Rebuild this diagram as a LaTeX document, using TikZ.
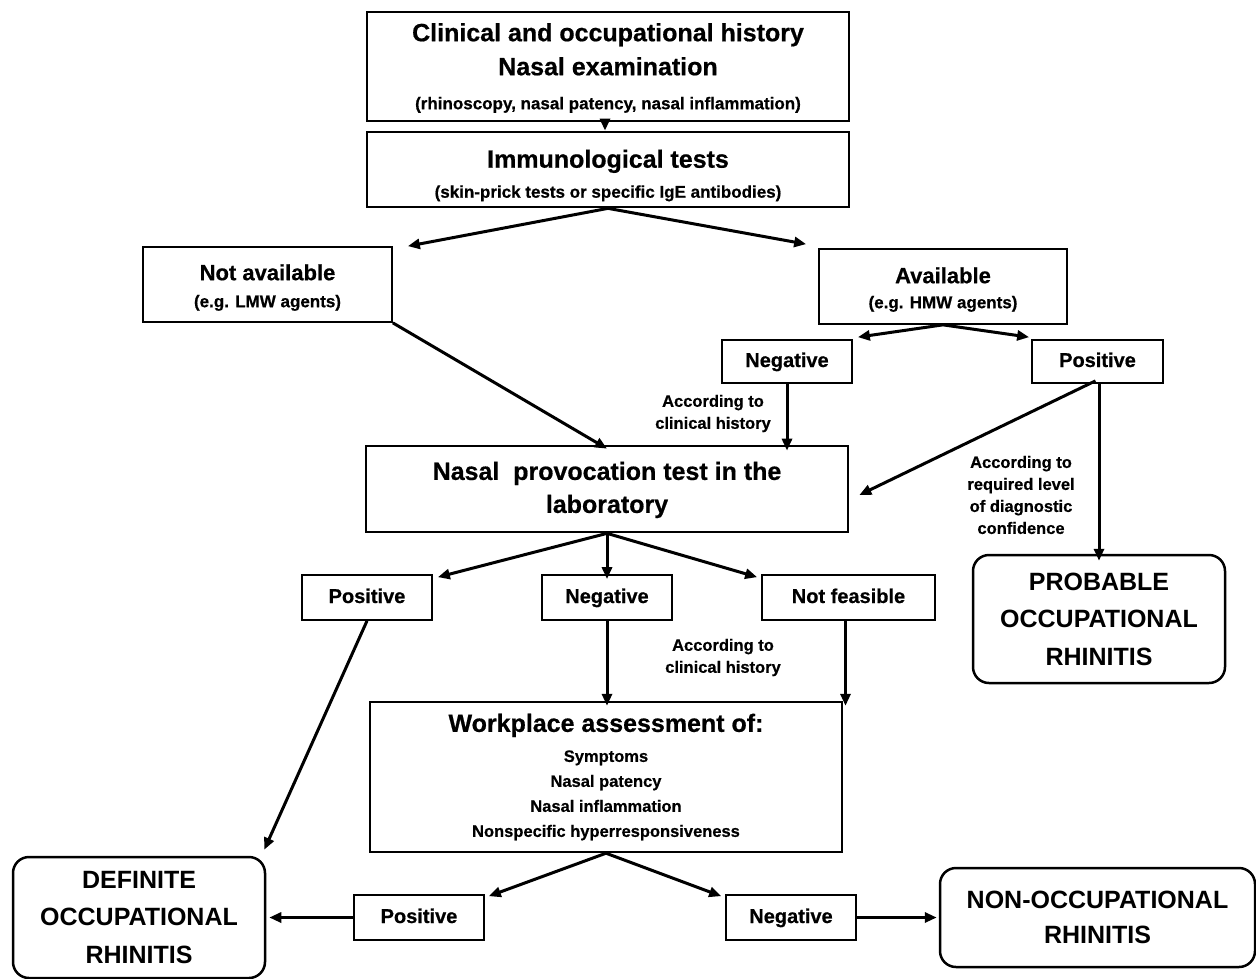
\documentclass[tikz,border=0pt]{standalone}
\usepackage{fontspec}
\setmainfont{Liberation Sans}[BoldFeatures={FakeBold=0.6}]
\newfontfamily\capsfont{Liberation Sans}
\usetikzlibrary{arrows.meta}
\newcommand{\fsz}[2]{\fontsize{#1pt}{#2pt}\selectfont}
\begin{document}
\begin{tikzpicture}[x=1pt,y=-1pt,
  box/.style={draw, line width=1.7pt, inner sep=0pt, align=center},
  heavy/.style={box, line width=2.7pt},
  small/.style={box, font=\bfseries\fsz{20}{24}, text height=15pt, text depth=4pt},
  outcome/.style={draw, line width=2.5pt, rounded corners=16pt, inner sep=0pt, align=center, font=\capsfont\bfseries\fsz{25}{37.5}},
  arr/.style={line width=3pt, -{Triangle[length=12pt,width=10pt]}},
  note/.style={align=center, font=\bfseries\fsz{16.5}{22}, inner sep=0pt}
]
\useasboundingbox (0,0) rectangle (1256,978);
\fill[white] (0,0) rectangle (1256,978);

% boxes
\node[heavy, minimum width=482pt, minimum height=109pt, font=\bfseries\fsz{25}{34}] (top) at (608,66.5)
  {\rule{0pt}{21pt}Clinical and occupational history\\Nasal examination\\{\fsz{17}{34}(rhinoscopy, nasal patency, nasal inflammation)}};
\node[heavy, minimum width=482pt, minimum height=75pt, font=\bfseries\fsz{25}{30}] (imm) at (608,169.5)
  {\rule{0pt}{30pt}Immunological tests\\{\fsz{17}{30}(skin-prick tests or specific IgE antibodies)}};
\node[box, minimum width=249pt, minimum height=75pt, font=\bfseries\fsz{22}{27}] (notavail) at (267.5,284.5)
  {\rule{0pt}{22pt}Not available\\{\fsz{17}{27}(e.g. LMW agents)}};
\node[box, minimum width=248pt, minimum height=75pt, font=\bfseries\fsz{22}{25}] (avail) at (943,286.5)
  {\rule{0pt}{22pt}Available\\{\fsz{17}{25}(e.g. HMW agents)}};
\node[small, minimum width=130pt, minimum height=43pt] (negU) at (787,361.5) {Negative};
\node[small, minimum width=131pt, minimum height=43pt] (posU) at (1097.5,361.5) {Positive};
\node[heavy, minimum width=482pt, minimum height=86pt, font=\bfseries\fsz{25}{33}] (nasal) at (607,489)
  {\rule{0pt}{20pt}Nasal\ \ provocation test in the\\laboratory};
\node[small, minimum width=130pt, minimum height=45pt] (posM) at (367,597.5) {Positive};
\node[small, minimum width=130pt, minimum height=45pt] (negM) at (607,597.5) {Negative};
\node[small, minimum width=173pt, minimum height=45pt] (notf) at (848.5,597.5) {Not feasible};
\node[heavy, line width=2.4pt, minimum width=472pt, minimum height=150pt, font=\bfseries\fsz{16.5}{25}] (work) at (606,777)
  {{\fsz{25}{25}Workplace assessment of:}\\[5pt]Symptoms\\Nasal patency\\Nasal inflammation\\Nonspecific hyperresponsiveness};
\node[small, minimum width=130pt, minimum height=45pt] (posB) at (419,917.5) {Positive};
\node[small, minimum width=130pt, minimum height=45pt] (negB) at (791,917.5) {Negative};
\node[outcome, minimum width=252pt, minimum height=121pt] (definite) at (139,917.5)
  {DEFINITE\\OCCUPATIONAL\\RHINITIS};
\node[outcome, minimum width=315pt, minimum height=99pt, font=\capsfont\bfseries\fsz{25}{35}] (nonocc) at (1097.5,917.5)
  {NON-OCCUPATIONAL\\RHINITIS};
\node[outcome, minimum width=252pt, minimum height=128pt] (probable) at (1099,619)
  {PROBABLE\\OCCUPATIONAL\\RHINITIS};

% labels
\node[note] (l1) at (713,413.5) {According to\\clinical history};
\node[note] (l2) at (1021,495) {According to\\required level\\of diagnostic\\confidence};
\node[note] (l3) at (723,657.5) {According to\\clinical history};

% connectors
\draw[arr] ([xshift=-3pt]top.south) -- ([xshift=-3pt]imm.north);
\draw[arr] (imm.south) -- ([xshift=15pt]notavail.north east);
\draw[arr] (imm.south) -- ([xshift=-12pt,yshift=4pt]avail.north west);
\draw[arr] (notavail.south east) -- ([yshift=-4pt]nasal.north);
\draw[arr] (avail.south) -- ([xshift=5pt,yshift=2pt]negU.north east);
\draw[arr] (avail.south) -- ([xshift=-2pt,yshift=2pt]posU.north west);
\draw[arr] (negU.south) -- ([yshift=-6pt]negU.south |- nasal.north);
\draw[arr] ([xshift=-2pt,yshift=3pt]posU.south) -- ([xshift=10pt,yshift=-6pt]nasal.east);
\draw[arr] ([xshift=1.5pt]posU.south) -- ([yshift=-7pt]probable.north);
\draw[arr] (nasal.south) -- ([xshift=5pt,yshift=-3pt]posM.north east);
\draw[arr] (nasal.south) -- ([yshift=-5pt]negM.north);
\draw[arr] (nasal.south) -- ([xshift=-4pt,yshift=-3pt]notf.north west);
\draw[arr] (negM.south) -- ([yshift=-5pt]negM.south |- work.north);
\draw[arr] ([xshift=-3pt]notf.south) -- ([xshift=-3pt,yshift=-5pt]notf.south |- work.north);
\draw[arr] (posM.south) -- ([xshift=-2pt,yshift=6pt]definite.north east);
\draw[arr] (work.south) -- ([xshift=4pt,yshift=-2pt]posB.north east);
\draw[arr] (work.south) -- ([xshift=-4pt,yshift=-2pt]negB.north west);
\draw[arr] (posB.west) -- ([xshift=3pt]definite.east);
\draw[arr] (negB.east) -- ([xshift=-2pt]nonocc.west);
\end{tikzpicture}
\end{document}
